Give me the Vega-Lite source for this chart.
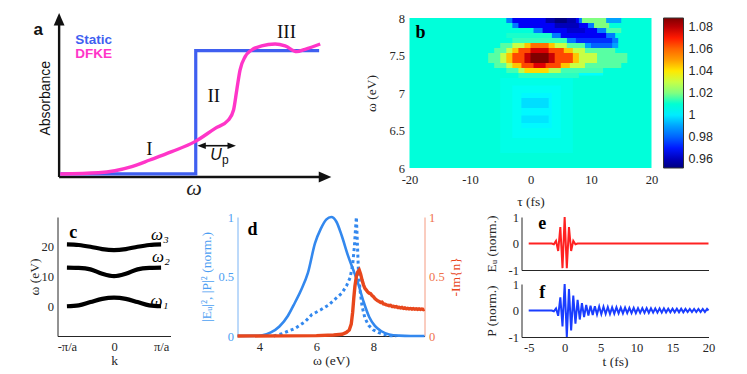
{
"$schema": "https://vega.github.io/schema/vega-lite/v6.json",
"background": "#ffffff",
"padding": {"left": 26.5, "top": 12, "right": 0, "bottom": 0},
"config": {
  "view": {"stroke": null},
  "axis": {"labelFont": "Liberation Serif", "titleFont": "Liberation Serif", "labelFontSize": 12.5, "titleFontSize": 13.5, "titleFontWeight": "normal", "labelColor": "#262626", "titleColor": "#262626", "domainColor": "#262626", "grid": false, "ticks": false, "labelFlush": false, "labelOverlap": false, "format": "~g", "labelExpr": "replace(datum.label, '−', '-')"}
},
"spacing": 199,
"bounds": "flush",
"resolve": {"scale": {"color": "independent"}, "legend": {"color": "independent"}},
"vconcat": [
{
  "spacing": 82,
  "bounds": "flush",
  "resolve": {"scale": {"color": "independent"}, "legend": {"color": "independent"}},
  "hconcat": [
  {
    "width": 270, "height": 159,
    "encoding": {
      "x": {"field": "x", "type": "quantitative", "scale": {"domain": [-0.06, 9.94]}, "axis": null},
      "y": {"field": "y", "type": "quantitative", "scale": {"domain": [0, 9.35]}, "axis": null}
    },
    "layer": [
      {"data": {"values": [{"x": 0, "y": 0, "x2": 9.7, "y2": 0}, {"x": 0, "y": 0, "x2": 0, "y2": 9.0}]},
       "mark": {"type": "rule", "strokeWidth": 2.4, "color": "#111111"},
       "encoding": {"x2": {"field": "x2"}, "y2": {"field": "y2"}}},
      {"data": {"values": [{"x": 0, "y": 9.29}]},
       "mark": {"type": "point", "shape": "M0,-1L0.9,1.1L-0.9,1.1Z", "size": 144, "filled": true, "color": "#111111", "opacity": 1}},
      {"data": {"values": [{"x": 9.86, "y": 0}]},
       "mark": {"type": "point", "shape": "M1,0L-1.1,-0.9L-1.1,0.9Z", "size": 144, "filled": true, "color": "#111111", "opacity": 1}},
      {"data": {"values": [{"x": 0.04, "y": 0.18, "i": 0}, {"x": 5.06, "y": 0.18, "i": 1}, {"x": 5.06, "y": 7.43, "i": 2}, {"x": 9.63, "y": 7.43, "i": 3}]},
       "mark": {"type": "line", "color": "#3f5ff0", "strokeWidth": 3.2, "strokeJoin": "miter"},
       "encoding": {"order": {"field": "i", "type": "quantitative"}}},
      {"data": {"values": [{"x": 0.04, "y": 0.18}, {"x": 1.46, "y": 0.25}, {"x": 2.69, "y": 0.61}, {"x": 3.36, "y": 1.0}, {"x": 4.17, "y": 1.49}, {"x": 5.03, "y": 2.08}, {"x": 5.78, "y": 2.86}, {"x": 6.27, "y": 3.35}, {"x": 6.46, "y": 3.94}, {"x": 6.58, "y": 5.12}, {"x": 6.7, "y": 6.29}, {"x": 6.89, "y": 7.08}, {"x": 7.13, "y": 7.47}, {"x": 7.5, "y": 7.71}, {"x": 8.0, "y": 7.82}, {"x": 8.37, "y": 7.71}, {"x": 8.8, "y": 7.37}, {"x": 9.11, "y": 7.51}, {"x": 9.67, "y": 7.82}]},
       "mark": {"type": "line", "color": "#ff35c8", "strokeWidth": 3.4, "interpolate": "monotone"}},
      {"data": {"values": [{"x": 5.35, "y": 1.84, "x2": 6.3}]},
       "mark": {"type": "rule", "strokeWidth": 1.6, "color": "#111111"},
       "encoding": {"x2": {"field": "x2"}}},
      {"data": {"values": [{"x": 5.27, "y": 1.84}]},
       "mark": {"type": "point", "shape": "M-1,0L1.1,-0.8L1.1,0.8Z", "size": 64, "filled": true, "color": "#111111", "opacity": 1}},
      {"data": {"values": [{"x": 6.4, "y": 1.84}]},
       "mark": {"type": "point", "shape": "M1,0L-1.1,-0.8L-1.1,0.8Z", "size": 64, "filled": true, "color": "#111111", "opacity": 1}},
      {"data": {"values": [{"x": -0.95, "y": 8.35, "s": "a"}]},
       "mark": {"type": "text", "align": "left", "baseline": "alphabetic", "font": "Liberation Sans", "fontWeight": "bold", "fontSize": 17, "color": "#111111"},
       "encoding": {"text": {"field": "s"}}},
      {"data": {"values": [{"x": 0.6, "y": 7.82, "s": "Static"}]},
       "mark": {"type": "text", "align": "left", "baseline": "alphabetic", "font": "Liberation Sans", "fontWeight": "bold", "fontSize": 13.5, "color": "#3f5ff0"},
       "encoding": {"text": {"field": "s"}}},
      {"data": {"values": [{"x": 0.6, "y": 7.0, "s": "DFKE"}]},
       "mark": {"type": "text", "align": "left", "baseline": "alphabetic", "font": "Liberation Sans", "fontWeight": "bold", "fontSize": 13.5, "color": "#ff35c8"},
       "encoding": {"text": {"field": "s"}}},
      {"data": {"values": [{"x": -0.49, "y": 4.63, "s": "Absorbance"}]},
       "mark": {"type": "text", "align": "center", "baseline": "middle", "angle": 270, "font": "Liberation Sans", "fontSize": 14, "color": "#111111"},
       "encoding": {"text": {"field": "s"}}},
      {"data": {"values": [{"x": 5.0, "y": -1.06, "s": "ω"}]},
       "mark": {"type": "text", "align": "center", "baseline": "alphabetic", "font": "Liberation Serif", "fontStyle": "italic", "fontSize": 22, "color": "#222222"},
       "encoding": {"text": {"field": "s"}}},
      {"data": {"values": [{"x": 3.34, "y": 1.29, "s": "I"}, {"x": 5.73, "y": 4.43, "s": "II"}, {"x": 8.42, "y": 8.16, "s": "III"}]},
       "mark": {"type": "text", "align": "center", "baseline": "alphabetic", "font": "Liberation Serif", "fontSize": 19, "color": "#111111"},
       "encoding": {"text": {"field": "s"}}},
      {"data": {"values": [{"x": 5.81, "y": 1.0, "s": "U"}]},
       "mark": {"type": "text", "align": "center", "baseline": "alphabetic", "font": "Liberation Sans", "fontStyle": "italic", "fontSize": 16, "color": "#111111"},
       "encoding": {"text": {"field": "s"}}},
      {"data": {"values": [{"x": 6.03, "y": 0.76, "s": "p"}]},
       "mark": {"type": "text", "align": "left", "baseline": "alphabetic", "font": "Liberation Sans", "fontSize": 12, "color": "#111111"},
       "encoding": {"text": {"field": "s"}}}
    ]
  },
  {
    "width": 242, "height": 150,
    "layer": [
      {"data": {"values": [
        {"t0":-20,"t1":20,"w0":6,"w1":8,"v":1.009},
        {"t0":-5,"t1":7,"w0":6.2,"w1":7.2,"v":1.007},
        {"t0":-3,"t1":5,"w0":6.4,"w1":7.1,"v":1.005},
        {"t0":-1.5,"t1":3.5,"w0":6.533,"w1":7.0,"v":1.002},
        {"t0":-1.5,"t1":3,"w0":6.8,"w1":6.933,"v":0.998},
        {"t0":-1.5,"t1":3,"w0":6.6,"w1":6.7,"v":0.999},
        {"t0":8,"t1":12,"w0":7.233,"w1":7.3,"v":1.003},
        {"t0":8,"t1":13,"w0":7.867,"w1":8,"v":1.02},
        {"t0":10,"t1":15,"w0":7.8,"w1":7.867,"v":1.015},
        {"t0":12.5,"t1":15,"w0":7.933,"w1":8,"v":0.99},
        {"t0":-4,"t1":8.5,"w0":7.933,"w1":8,"v":0.985},
        {"t0":-3,"t1":10.5,"w0":7.867,"w1":7.933,"v":0.985},
        {"t0":0.5,"t1":12.5,"w0":7.8,"w1":7.867,"v":0.985},
        {"t0":3.5,"t1":14,"w0":7.733,"w1":7.8,"v":0.985},
        {"t0":6,"t1":14.5,"w0":7.667,"w1":7.733,"v":0.985},
        {"t0":9,"t1":14.5,"w0":7.6,"w1":7.667,"v":0.99},
        {"t0":-3,"t1":8,"w0":7.933,"w1":8,"v":0.968},
        {"t0":-2,"t1":9.5,"w0":7.867,"w1":7.933,"v":0.968},
        {"t0":2,"t1":11,"w0":7.8,"w1":7.867,"v":0.968},
        {"t0":5,"t1":12.5,"w0":7.733,"w1":7.8,"v":0.968},
        {"t0":7.5,"t1":13.5,"w0":7.667,"w1":7.733,"v":0.972},
        {"t0":10,"t1":13.5,"w0":7.6,"w1":7.667,"v":0.98},
        {"t0":2.5,"t1":7.5,"w0":7.933,"w1":8,"v":0.958},
        {"t0":4,"t1":8,"w0":7.867,"w1":7.933,"v":0.96},
        {"t0":6,"t1":9,"w0":7.8,"w1":7.867,"v":0.963},
        {"t0":4,"t1":6,"w0":7.933,"w1":8,"v":0.952},
        {"t0":-4,"t1":3.5,"w0":7.733,"w1":7.8,"v":1.011},
        {"t0":-3,"t1":6,"w0":7.667,"w1":7.733,"v":1.013},
        {"t0":-5,"t1":9,"w0":7.6,"w1":7.667,"v":1.016},
        {"t0":-6,"t1":14,"w0":7.533,"w1":7.6,"v":1.016},
        {"t0":-7,"t1":16,"w0":7.467,"w1":7.533,"v":1.016},
        {"t0":-7,"t1":16,"w0":7.4,"w1":7.467,"v":1.016},
        {"t0":-6,"t1":15,"w0":7.333,"w1":7.4,"v":1.016},
        {"t0":-4,"t1":12,"w0":7.267,"w1":7.333,"v":1.014},
        {"t0":-2,"t1":8,"w0":7.2,"w1":7.267,"v":1.012},
        {"t0":-3,"t1":6,"w0":7.6,"w1":7.667,"v":1.03},
        {"t0":-4,"t1":9,"w0":7.533,"w1":7.6,"v":1.03},
        {"t0":-5,"t1":11,"w0":7.467,"w1":7.533,"v":1.03},
        {"t0":-5,"t1":11,"w0":7.4,"w1":7.467,"v":1.03},
        {"t0":-4,"t1":9,"w0":7.333,"w1":7.4,"v":1.03},
        {"t0":-2,"t1":5,"w0":7.267,"w1":7.333,"v":1.028},
        {"t0":-1,"t1":4,"w0":7.6,"w1":7.667,"v":1.045},
        {"t0":-3,"t1":7,"w0":7.533,"w1":7.6,"v":1.045},
        {"t0":-4,"t1":8,"w0":7.467,"w1":7.533,"v":1.045},
        {"t0":-4,"t1":8,"w0":7.4,"w1":7.467,"v":1.045},
        {"t0":-3,"t1":6.5,"w0":7.333,"w1":7.4,"v":1.045},
        {"t0":-1,"t1":3,"w0":7.267,"w1":7.333,"v":1.042},
        {"t0":0,"t1":3,"w0":7.6,"w1":7.667,"v":1.058},
        {"t0":-2,"t1":5.5,"w0":7.533,"w1":7.6,"v":1.065},
        {"t0":-3,"t1":7,"w0":7.467,"w1":7.533,"v":1.065},
        {"t0":-3,"t1":7,"w0":7.4,"w1":7.467,"v":1.065},
        {"t0":-1.5,"t1":5,"w0":7.333,"w1":7.4,"v":1.065},
        {"t0":0,"t1":3,"w0":7.533,"w1":7.6,"v":1.076},
        {"t0":-1,"t1":4,"w0":7.467,"w1":7.533,"v":1.078},
        {"t0":-1,"t1":4,"w0":7.4,"w1":7.467,"v":1.078},
        {"t0":0.5,"t1":2.5,"w0":7.333,"w1":7.4,"v":1.075},
        {"t0":0,"t1":3,"w0":7.4,"w1":7.533,"v":1.088}
      ]},
       "mark": {"type": "rect"},
       "encoding": {
         "x": {"field": "t0", "type": "quantitative", "scale": {"domain": [-20, 20]}, "axis": {"values": [-20, -10, 0, 10, 20], "tickCount": 20, "format": "~g", "title": "τ (fs)", "domain": false, "labelPadding": 5, "titlePadding": 9, "labelOverlap": false}},
         "x2": {"field": "t1"},
         "y": {"field": "w0", "type": "quantitative", "scale": {"domain": [6, 8]}, "axis": {"values": [6, 6.5, 7, 7.5, 8], "tickCount": 20, "format": "~g", "title": "ω (eV)", "domain": false, "labelPadding": 5, "titlePadding": 10, "labelOverlap": false}},
         "y2": {"field": "w1"},
         "color": {"field": "v", "type": "quantitative",
           "scale": {"domain": [0.952, 1.088], "range": ["#000080", "#0000ff", "#0080ff", "#00ffff", "#80ff80", "#ffff00", "#ff8000", "#ff0000", "#800000"]},
           "legend": {"orient": "right", "offset": 12, "padding": 0, "title": null, "direction": "vertical", "gradientLength": 150, "gradientThickness": 20, "values": [0.96, 0.98, 1, 1.02, 1.04, 1.06, 1.08], "tickCount": 20, "format": ".2~f", "labelFont": "Liberation Sans", "labelFontSize": 12.5, "labelColor": "#262626", "labelOffset": 5, "labelOverlap": false, "gradientStrokeColor": "#333333", "gradientStrokeWidth": 1}}
       }},
      {"data": {"values": [{"t0": -19, "w0": 7.733, "s": "b"}]},
       "mark": {"type": "text", "align": "left", "baseline": "alphabetic", "font": "Liberation Serif", "fontWeight": "bold", "fontSize": 18, "color": "#000000"},
       "encoding": {
         "x": {"field": "t0", "type": "quantitative", "scale": {"domain": [-20, 20]}},
         "y": {"field": "w0", "type": "quantitative", "scale": {"domain": [6, 8]}},
         "text": {"field": "s"}}}
    ]
  }
  ]
},
{
  "spacing": 67,
  "bounds": "flush",
  "hconcat": [
  {
    "width": 113, "height": 119,
    "layer": [
      {"data": {"values": [
        {"k":-1,"w":20.8,"b":"3"},{"k":-0.75,"w":20.6,"b":"3"},{"k":-0.5,"w":20.0,"b":"3"},{"k":-0.25,"w":19.2,"b":"3"},{"k":0,"w":18.85,"b":"3"},{"k":0.25,"w":19.2,"b":"3"},{"k":0.5,"w":20.0,"b":"3"},{"k":0.75,"w":20.6,"b":"3"},{"k":1,"w":20.8,"b":"3"},
        {"k":-1,"w":13.0,"b":"2"},{"k":-0.75,"w":12.9,"b":"2"},{"k":-0.5,"w":12.4,"b":"2"},{"k":-0.25,"w":10.9,"b":"2"},{"k":0,"w":10.1,"b":"2"},{"k":0.25,"w":10.9,"b":"2"},{"k":0.5,"w":12.4,"b":"2"},{"k":0.75,"w":12.9,"b":"2"},{"k":1,"w":13.0,"b":"2"},
        {"k":-1,"w":0,"b":"1"},{"k":-0.75,"w":0.3,"b":"1"},{"k":-0.5,"w":1.4,"b":"1"},{"k":-0.25,"w":2.5,"b":"1"},{"k":0,"w":2.9,"b":"1"},{"k":0.25,"w":2.5,"b":"1"},{"k":0.5,"w":1.4,"b":"1"},{"k":0.75,"w":0.3,"b":"1"},{"k":1,"w":0,"b":"1"}
      ]},
       "mark": {"type": "line", "color": "#000000", "strokeWidth": 4.2, "interpolate": "monotone"},
       "encoding": {
         "x": {"field": "k", "type": "quantitative", "scale": {"domain": [-1.024, 1.024]}, "axis": {"values": [-1, 0, 1], "tickCount": 20, "labelExpr": "datum.value < -0.5 ? '-π/a' : (datum.value > 0.5 ? 'π/a' : '0')", "title": "k", "labelPadding": 4, "titlePadding": 1, "labelOverlap": false}},
         "y": {"field": "w", "type": "quantitative", "scale": {"domain": [-5.04, 27.7]}, "axis": {"values": [0, 10, 20], "tickCount": 20, "format": "~g", "title": "ω (eV)", "labelPadding": 4, "titlePadding": 0, "labelOverlap": false}},
         "detail": {"field": "b"}}},
      {"data": {"values": [{"k": -0.95, "w": 23.0, "s": "c"}]},
       "mark": {"type": "text", "align": "left", "baseline": "alphabetic", "font": "Liberation Serif", "fontWeight": "bold", "fontSize": 18, "color": "#000000"},
       "encoding": {"x": {"field": "k", "type": "quantitative"}, "y": {"field": "w", "type": "quantitative"}, "text": {"field": "s"}}},
      {"data": {"values": [{"k": 0.787, "w": 22.2, "s": "ω₃"}, {"k": 0.806, "w": 14.76, "s": "ω₂"}, {"k": 0.775, "w": 0.17, "s": "ω₁"}]},
       "mark": {"type": "text", "align": "left", "baseline": "alphabetic", "font": "Liberation Serif", "fontStyle": "italic", "fontSize": 17, "color": "#000000"},
       "encoding": {"x": {"field": "k", "type": "quantitative"}, "y": {"field": "w", "type": "quantitative"}, "text": {"field": "s"}}}
    ]
  },
  {
    "spacing": 97,
    "bounds": "flush",
    "hconcat": [
    {
      "width": 187, "height": 119,
      "resolve": {"scale": {"y": "independent"}},
      "layer": [
        {"data": {"values": [
          {"x":3.23,"v":0},{"x":3.8,"v":0.001},{"x":4.1,"v":0.006},{"x":4.4,"v":0.03},{"x":4.7,"v":0.08},{"x":5.0,"v":0.17},{"x":5.2,"v":0.26},{"x":5.45,"v":0.38},{"x":5.7,"v":0.53},{"x":5.95,"v":0.78},{"x":6.15,"v":0.9},{"x":6.35,"v":0.98},{"x":6.52,"v":1.0},{"x":6.7,"v":0.96},{"x":6.89,"v":0.84},{"x":7.1,"v":0.68},{"x":7.3,"v":0.55},{"x":7.45,"v":0.45},{"x":7.65,"v":0.29},{"x":7.85,"v":0.16},{"x":8.05,"v":0.085},{"x":8.28,"v":0.04},{"x":8.55,"v":0.013},{"x":8.9,"v":0.003},{"x":9.3,"v":0},{"x":9.79,"v":0}
        ]},
         "mark": {"type": "line", "color": "#3388ee", "strokeWidth": 2.6, "interpolate": "monotone"},
         "encoding": {
           "x": {"field": "x", "type": "quantitative", "scale": {"domain": [3.23, 9.79]}, "axis": {"values": [4, 6, 8], "tickCount": 20, "format": "~g", "title": "ω (eV)", "labelPadding": 4, "titlePadding": 1, "labelOverlap": false}},
           "y": {"field": "v", "type": "quantitative", "scale": {"domain": [0, 1]}, "axis": {"values": [0, 0.5, 1], "tickCount": 20, "format": "~g", "title": "|Eᵤ|², |P|² (norm.)", "domainColor": "#7ab4f5", "labelColor": "#4d9ef2", "titleColor": "#4d9ef2", "labelPadding": 4, "titlePadding": 4, "labelOverlap": false}}}},
        {"data": {"values": [
          {"x":4.5,"v":0},{"x":4.79,"v":0.02},{"x":5.26,"v":0.065},{"x":5.6,"v":0.12},{"x":5.84,"v":0.18},{"x":6.15,"v":0.22},{"x":6.42,"v":0.26},{"x":6.7,"v":0.32},{"x":6.89,"v":0.36},{"x":7.05,"v":0.42},{"x":7.18,"v":0.49},{"x":7.27,"v":0.6},{"x":7.33,"v":0.75},{"x":7.37,"v":0.9},{"x":7.4,"v":1.0},{"x":7.44,"v":0.75},{"x":7.47,"v":0.56},{"x":7.53,"v":0.38},{"x":7.6,"v":0.25},{"x":7.7,"v":0.15},{"x":7.83,"v":0.09},{"x":8.0,"v":0.05},{"x":8.18,"v":0.028},{"x":8.4,"v":0.012},{"x":8.6,"v":0.003},{"x":8.8,"v":0}
        ]},
         "mark": {"type": "line", "color": "#3388ee", "strokeWidth": 3, "strokeDash": [3, 3]},
         "encoding": {
           "x": {"field": "x", "type": "quantitative", "scale": {"domain": [3.23, 9.79]}},
           "y": {"field": "v", "type": "quantitative", "scale": {"domain": [0, 1]}, "axis": null}}},
        {"data": {"values": [
          {"x":3.23,"v":0},{"x":6.0,"v":0.003},{"x":6.6,"v":0.008},{"x":6.9,"v":0.015},{"x":7.05,"v":0.03},{"x":7.15,"v":0.05},{"x":7.22,"v":0.1},{"x":7.27,"v":0.2},{"x":7.31,"v":0.32},{"x":7.35,"v":0.42},{"x":7.4,"v":0.5},{"x":7.45,"v":0.54},{"x":7.5,"v":0.555},{"x":7.55,"v":0.52},{"x":7.6,"v":0.47},{"x":7.65,"v":0.43},{"x":7.7,"v":0.4},{"x":7.75,"v":0.385},{"x":7.8,"v":0.37},{"x":7.85,"v":0.36},{"x":7.9,"v":0.355},{"x":7.95,"v":0.34},{"x":8.0,"v":0.33},{"x":8.05,"v":0.315},{"x":8.1,"v":0.305},{"x":8.15,"v":0.295},{"x":8.2,"v":0.29},{"x":8.25,"v":0.282},{"x":8.3,"v":0.285},{"x":8.35,"v":0.27},{"x":8.4,"v":0.268},{"x":8.45,"v":0.262},{"x":8.5,"v":0.26},{"x":8.55,"v":0.255},{"x":8.6,"v":0.258},{"x":8.65,"v":0.248},{"x":8.7,"v":0.25},{"x":8.75,"v":0.245},{"x":8.8,"v":0.248},{"x":8.85,"v":0.24},{"x":8.9,"v":0.242},{"x":8.95,"v":0.236},{"x":9.0,"v":0.24},{"x":9.05,"v":0.232},{"x":9.1,"v":0.236},{"x":9.15,"v":0.229},{"x":9.2,"v":0.233},{"x":9.25,"v":0.227},{"x":9.3,"v":0.231},{"x":9.35,"v":0.226},{"x":9.4,"v":0.23},{"x":9.45,"v":0.225},{"x":9.5,"v":0.229},{"x":9.55,"v":0.224},{"x":9.6,"v":0.228},{"x":9.65,"v":0.223},{"x":9.7,"v":0.227},{"x":9.75,"v":0.222},{"x":9.79,"v":0.226}
        ]},
         "mark": {"type": "line", "color": "#e8471c", "strokeWidth": 3.4},
         "encoding": {
           "x": {"field": "x", "type": "quantitative", "scale": {"domain": [3.23, 9.79]}},
           "y": {"field": "v", "type": "quantitative", "scale": {"domain": [0, 1]}, "axis": {"orient": "right", "values": [0, 0.5, 1], "tickCount": 20, "format": "~g", "title": "-Im{n}", "titleAngle": 270, "titleBaseline": "top", "domainColor": "#f59a80", "labelColor": "#f0714a", "titleColor": "#e8471c", "labelPadding": 4, "titlePadding": 4, "labelOverlap": false}}}},
        {"data": {"values": [{"x": 3.58, "v": 0.85, "s": "d"}]},
         "mark": {"type": "text", "align": "left", "baseline": "alphabetic", "font": "Liberation Serif", "fontWeight": "bold", "fontSize": 18, "color": "#000000"},
         "encoding": {
           "x": {"field": "x", "type": "quantitative", "scale": {"domain": [3.23, 9.79]}},
           "y": {"field": "v", "type": "quantitative", "scale": {"domain": [0, 1]}, "axis": null},
           "text": {"field": "s"}}}
      ]
    },
    {
      "spacing": 14,
      "bounds": "flush",
      "vconcat": [
      {
        "width": 187, "height": 53,
        "layer": [
          {"data": {"values": [{"t":-5,"v":0},{"t":-1.8,"v":0},{"t":-1.5,"v":-0.03},{"t":-1.2,"v":0.1},{"t":-0.9,"v":-0.28},{"t":-0.6,"v":0.62},{"t":-0.3,"v":-0.93},{"t":0,"v":1},{"t":0.3,"v":-0.93},{"t":0.6,"v":0.62},{"t":0.9,"v":-0.28},{"t":1.2,"v":0.1},{"t":1.5,"v":-0.03},{"t":1.8,"v":0},{"t":20,"v":0}]},
           "mark": {"type": "line", "color": "#ff2222", "strokeWidth": 2},
           "encoding": {
             "x": {"field": "t", "type": "quantitative", "scale": {"domain": [-5, 20]}, "axis": {"labels": false, "title": null, "values": [-5, 0, 5, 10, 15, 20], "tickCount": 20}},
             "y": {"field": "v", "type": "quantitative", "scale": {"domain": [-1, 1]}, "axis": {"values": [-1, 0, 1], "tickCount": 20, "format": "~g", "title": "Eᵤ (norm.)", "labelPadding": 3, "titlePadding": 10, "labelOverlap": false}}}},
          {"data": {"values": [{"t": -3.66, "v": 0.547, "s": "e"}]},
           "mark": {"type": "text", "align": "left", "baseline": "alphabetic", "font": "Liberation Serif", "fontWeight": "bold", "fontSize": 18, "color": "#000000"},
           "encoding": {"x": {"field": "t", "type": "quantitative"}, "y": {"field": "v", "type": "quantitative"}, "text": {"field": "s"}}}
        ]
      },
      {
        "width": 187, "height": 53,
        "layer": [
          {"data": {"values": [{"t":-5,"v":0},{"t":-1.8,"v":0},{"t":-1.5,"v":-0.03},{"t":-1.2,"v":0.08},{"t":-0.9,"v":-0.2},{"t":-0.6,"v":0.5},{"t":-0.3,"v":-0.6},{"t":0,"v":1},{"t":0.3,"v":-1},{"t":0.6,"v":0.81},{"t":0.9,"v":-0.75},{"t":1.2,"v":0.56},{"t":1.5,"v":-0.5},{"t":1.8,"v":0.4},{"t":2.1,"v":-0.34},{"t":2.4,"v":0.28},{"t":2.7,"v":-0.25},{"t":3.0,"v":0.21},{"t":3.3,"v":-0.19},{"t":3.6,"v":0.18},{"t":3.9,"v":-0.17},{"t":4.2,"v":0.16},{"t":4.5,"v":-0.15},{"t":4.8,"v":0.15},{"t":5.1,"v":-0.14},{"t":5.4,"v":0.14},{"t":5.7,"v":-0.13},{"t":6.0,"v":0.13},{"t":6.3,"v":-0.13},{"t":6.6,"v":0.12},{"t":6.9,"v":-0.12},{"t":7.2,"v":0.12},{"t":7.5,"v":-0.11},{"t":7.8,"v":0.11},{"t":8.1,"v":-0.11},{"t":8.4,"v":0.11},{"t":8.7,"v":-0.1},{"t":9.0,"v":0.1},{"t":9.3,"v":-0.1},{"t":9.6,"v":0.1},{"t":9.9,"v":-0.1},{"t":10.2,"v":0.09},{"t":10.5,"v":-0.09},{"t":10.8,"v":0.09},{"t":11.1,"v":-0.09},{"t":11.4,"v":0.09},{"t":11.7,"v":-0.09},{"t":12.0,"v":0.08},{"t":12.3,"v":-0.08},{"t":12.6,"v":0.08},{"t":12.9,"v":-0.08},{"t":13.2,"v":0.08},{"t":13.5,"v":-0.08},{"t":13.8,"v":0.08},{"t":14.1,"v":-0.07},{"t":14.4,"v":0.07},{"t":14.7,"v":-0.07},{"t":15.0,"v":0.07},{"t":15.3,"v":-0.07},{"t":15.6,"v":0.07},{"t":15.9,"v":-0.07},{"t":16.2,"v":0.07},{"t":16.5,"v":-0.07},{"t":16.8,"v":0.06},{"t":17.1,"v":-0.06},{"t":17.4,"v":0.06},{"t":17.7,"v":-0.06},{"t":18.0,"v":0.06},{"t":18.3,"v":-0.06},{"t":18.6,"v":0.06},{"t":18.9,"v":-0.06},{"t":19.2,"v":0.06},{"t":19.5,"v":-0.06},{"t":19.8,"v":0.06},{"t":20,"v":0}]},
           "mark": {"type": "line", "color": "#1a3dff", "strokeWidth": 2},
           "encoding": {
             "x": {"field": "t", "type": "quantitative", "scale": {"domain": [-5, 20]}, "axis": {"values": [-5, 0, 5, 10, 15, 20], "tickCount": 20, "format": "~g", "title": "t (fs)", "labelPadding": 4, "titlePadding": 1, "labelOverlap": false}},
             "y": {"field": "v", "type": "quantitative", "scale": {"domain": [-1, 1]}, "axis": {"values": [-1, 0, 1], "tickCount": 20, "format": "~g", "title": "P (norm.)", "labelPadding": 3, "titlePadding": 10, "labelOverlap": false}}}},
          {"data": {"values": [{"t": -3.53, "v": 0.47, "s": "f"}]},
           "mark": {"type": "text", "align": "left", "baseline": "alphabetic", "font": "Liberation Serif", "fontWeight": "bold", "fontSize": 18, "color": "#000000"},
           "encoding": {"x": {"field": "t", "type": "quantitative"}, "y": {"field": "v", "type": "quantitative"}, "text": {"field": "s"}}}
        ]
      }
      ]
    }
    ]
  }
  ]
}
]
}
